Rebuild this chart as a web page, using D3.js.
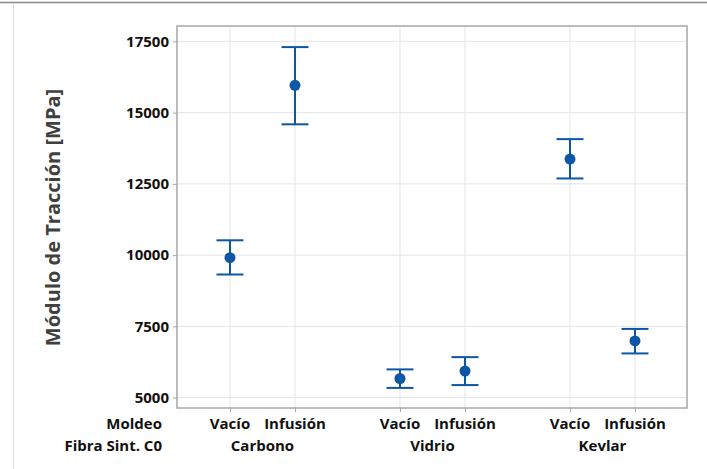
<!DOCTYPE html>
<html>
<head>
<meta charset="utf-8">
<script src="https://cdn.jsdelivr.net/npm/d3@7"></script>
<style>
  html, body { margin: 0; padding: 0; background: #fff; }
  svg { display: block; }
  text { font-family: "Open Sans", "Noto Sans", sans-serif; font-weight: bold; }
</style>
</head>
<body>
<svg id="chart" width="707" height="469"></svg>
<script>
// Tensile modulus by fibre and moulding method: mean with interval
const fibras = ["Carbono", "Vidrio", "Kevlar"];
const moldeos = ["Vacío", "Infusión"];
const medias   = [9910, 15960, 5670, 5930, 13370, 6990];
const inferior = [9320, 14590, 5340, 5440, 12690, 6550];
const superior = [10520, 17300, 5990, 6420, 14070, 7410];
const yTicks = [5000, 7500, 10000, 12500, 15000, 17500];

const puntos = [];
fibras.forEach((f, g) => moldeos.forEach((m, k) => {
  const i = g * moldeos.length + k;
  puntos.push({ fibra: f, moldeo: m, pos: g * 2.615 + k, media: medias[i], lo: inferior[i], hi: superior[i] });
}));

const svg = d3.select("#chart");
const W = 707, H = 469;
const plot = { left: 177, top: 26, right: 687, bottom: 408 };
const azul = "#0b57a5";
const fs = "15px";

// page frame lines
svg.append("line").attr("x1", 0).attr("x2", W).attr("y1", 2.5).attr("y2", 2.5)
  .attr("stroke", "#8a8a8a").attr("stroke-width", 1.5);
svg.append("line").attr("x1", 13.5).attr("x2", 13.5).attr("y1", 3).attr("y2", H)
  .attr("stroke", "#dcdcdc").attr("stroke-width", 1);

const x = d3.scaleLinear().domain([-0.815, 7.03]).range([plot.left, plot.right]);
const y = d3.scaleLinear().domain([4635, 18040]).range([plot.bottom, plot.top]);

// gridlines
const grid = svg.append("g");
grid.selectAll("line.h").data(yTicks).join("line")
  .attr("x1", plot.left).attr("x2", plot.right)
  .attr("y1", d => y(d)).attr("y2", d => y(d))
  .attr("stroke", "#e4e4e4").attr("stroke-width", 1);
grid.selectAll("line.v").data(puntos).join("line")
  .attr("x1", d => x(d.pos)).attr("x2", d => x(d.pos))
  .attr("y1", plot.top).attr("y2", plot.bottom)
  .attr("stroke", "#e4e4e4").attr("stroke-width", 1);

// plot frame
svg.append("rect").attr("x", plot.left).attr("y", plot.top)
  .attr("width", plot.right - plot.left).attr("height", plot.bottom - plot.top)
  .attr("fill", "none").attr("stroke", "#a6a6a6").attr("stroke-width", 1.5);

// y axis
const yAxis = d3.axisLeft(y).tickValues(yTicks).tickFormat(d3.format("d")).tickSize(4).tickPadding(4);
const gy = svg.append("g").attr("transform", `translate(${plot.left},0)`).call(yAxis);
gy.select(".domain").remove();
gy.selectAll(".tick line").attr("stroke", "#a6a6a6");
gy.selectAll(".tick text").attr("fill", "#111").style("font-size", fs)
  .style("font-family", "\"Open Sans\", sans-serif").style("font-weight", "bold");

// x axis ticks
const xAxis = d3.axisBottom(x).tickValues(puntos.map(d => d.pos)).tickSize(4).tickFormat("");
const gx = svg.append("g").attr("transform", `translate(0,${plot.bottom})`).call(xAxis);
gx.select(".domain").remove();
gx.selectAll(".tick line").attr("stroke", "#a6a6a6");

// category labels
svg.append("g").selectAll("text").data(puntos).join("text")
  .attr("x", d => x(d.pos)).attr("y", 428.5).attr("text-anchor", "middle")
  .attr("fill", "#111").style("font-size", fs).text(d => d.moldeo);
svg.append("g").selectAll("text").data(fibras).join("text")
  .attr("x", (d, g) => x(g * 2.615 + 0.5)).attr("y", 450.5).attr("text-anchor", "middle")
  .attr("fill", "#111").style("font-size", fs).text(d => d);
svg.append("text").attr("x", 162).attr("y", 428.5).attr("text-anchor", "end")
  .attr("fill", "#111").style("font-size", fs).text("Moldeo");
svg.append("text").attr("x", 162).attr("y", 450.5).attr("text-anchor", "end")
  .attr("fill", "#111").style("font-size", fs).text("Fibra Sint. C0");

// axis title
svg.append("text").attr("transform", `translate(60,${(88 + 347) / 2}) rotate(-90)`)
  .attr("text-anchor", "middle").attr("fill", "#404040").style("font-size", "20px")
  .text("Módulo de Tracción [MPa]");

// intervals
const capW = 13.5;
const marks = svg.append("g");
marks.selectAll("line.stem").data(puntos).join("line")
  .attr("x1", d => x(d.pos)).attr("x2", d => x(d.pos))
  .attr("y1", d => y(d.lo)).attr("y2", d => y(d.hi))
  .attr("stroke", azul).attr("stroke-width", 2);
marks.selectAll("line.capHi").data(puntos).join("line")
  .attr("x1", d => x(d.pos) - capW).attr("x2", d => x(d.pos) + capW)
  .attr("y1", d => y(d.hi)).attr("y2", d => y(d.hi))
  .attr("stroke", azul).attr("stroke-width", 2);
marks.selectAll("line.capLo").data(puntos).join("line")
  .attr("x1", d => x(d.pos) - capW).attr("x2", d => x(d.pos) + capW)
  .attr("y1", d => y(d.lo)).attr("y2", d => y(d.lo))
  .attr("stroke", azul).attr("stroke-width", 2);
marks.selectAll("circle").data(puntos).join("circle")
  .attr("cx", d => x(d.pos)).attr("cy", d => y(d.media)).attr("r", 5.5)
  .attr("fill", azul);
</script>
</body>
</html>
